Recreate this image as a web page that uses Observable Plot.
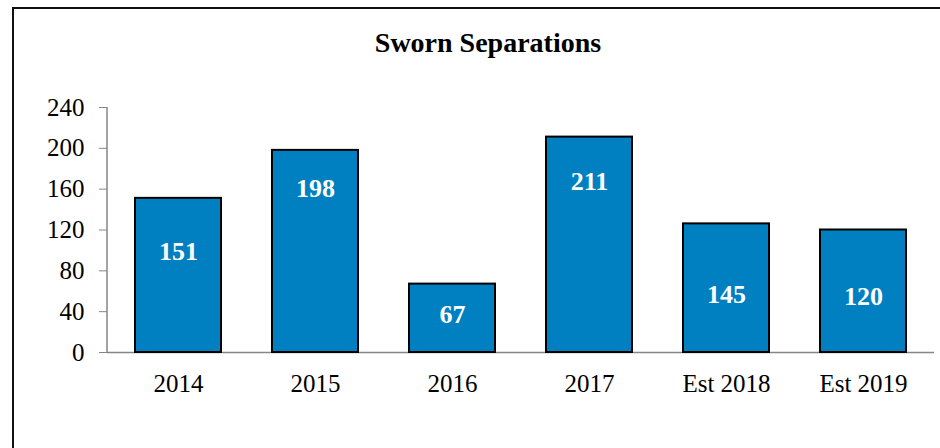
<!DOCTYPE html>
<html><head><meta charset="utf-8">
<script src="https://cdn.jsdelivr.net/npm/d3@7"></script>
<script src="https://cdn.jsdelivr.net/npm/@observablehq/plot@0.6"></script>
<style>
html,body{margin:0;padding:0;background:#fff;overflow:hidden}
#wrap{position:relative;width:940px;height:448px;font-family:"Liberation Serif","Times New Roman",serif}
#frame{position:absolute;left:12px;top:7px;width:1000px;height:1000px;border:2.5px solid #111;box-sizing:border-box;pointer-events:none}
#title{position:absolute;left:0;width:976px;top:29px;text-align:center;font-weight:bold;font-size:28px;line-height:1;color:#000}
#chart{position:absolute;left:0;top:0}
</style>
</head><body>
<div id="wrap"><div id="chart"></div><div id="frame"></div><div id="title">Sworn Separations</div></div>
<script>
const years = ["2014", "2015", "2016", "2017", "Est 2018", "Est 2019"];
const barValues = [151, 198, 67, 211, 126, 120];
const labels = ["151", "198", "67", "211", "145", "120"];
const labelY = [99, 160, 37, 167, 57, 55];
const yTicks = [0, 40, 80, 120, 160, 200, 240];

const data = years.map((y, i) => ({year: y, value: barValues[i], label: labels[i], ly: labelY[i]}));

const axisLine = (index, scales, values, dimensions) => {
  const {marginLeft, marginTop, height, marginBottom} = dimensions;
  const g = d3.create("svg:g");
  g.append("line")
    .attr("x1", marginLeft).attr("x2", marginLeft)
    .attr("y1", marginTop).attr("y2", height - marginBottom)
    .attr("stroke", "#868686").attr("stroke-width", 1.5);
  return g.node();
};

const chart = Plot.plot({
  width: 940,
  height: 448,
  marginLeft: 107,
  marginRight: 6,
  marginTop: 107,
  marginBottom: 96,
  style: {fontFamily: '"Liberation Serif","Times New Roman",serif', fontSize: "25px", color: "#000", background: "transparent"},
  x: {domain: years, paddingInner: 0.37, paddingOuter: 0.185, label: null, axis: null},
  y: {domain: [0, 240], label: null, axis: null},
  marks: [
    Plot.ruleY([0], {stroke: "#868686", strokeWidth: 1.5}),
    axisLine,
    Plot.axisY({ticks: yTicks, tickSize: 8, tickPadding: 15, stroke: "#868686", fill: "#000", fontSize: 25, label: null}),
    Plot.axisX({tickSize: 0, tickPadding: 22, fill: "#000", fontSize: 25, label: null}),
    Plot.barY(data, {x: "year", y: "value", fill: "#0080c0", stroke: "#000", strokeWidth: 2}),
    Plot.text(data, {x: "year", y: "ly", text: "label", fill: "#fff", fontWeight: "bold", fontSize: 26})
  ]
});
document.getElementById("chart").appendChild(chart);
</script>
</body></html>
